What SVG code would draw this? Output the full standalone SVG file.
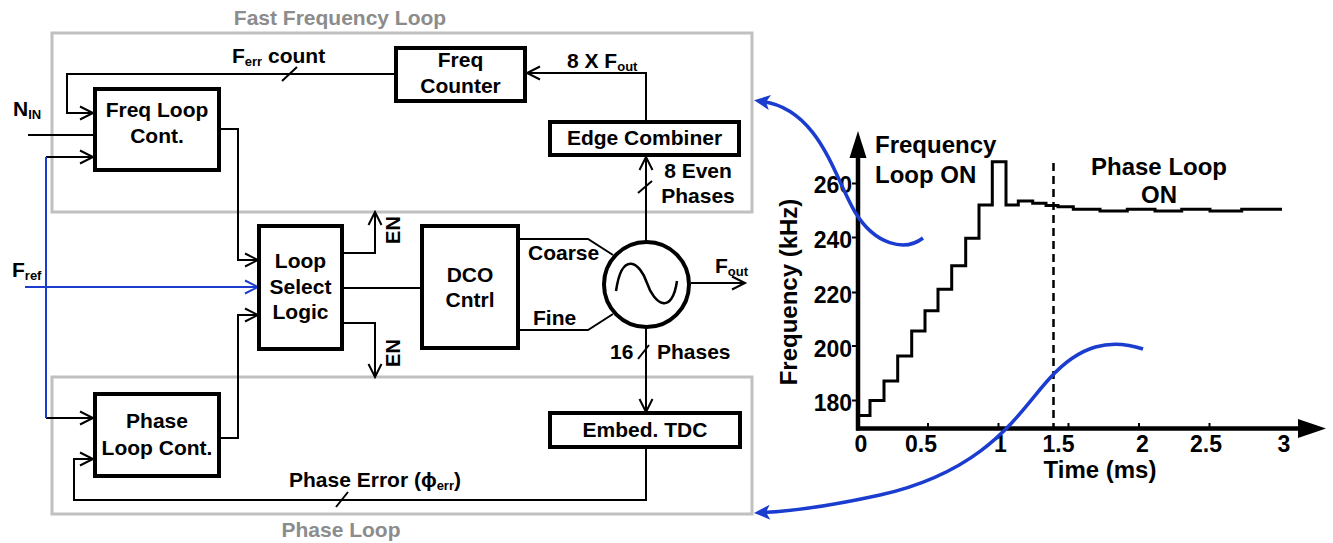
<svg xmlns="http://www.w3.org/2000/svg" width="1333" height="543" viewBox="0 0 1333 543">
<defs>
<style>
text{font-family:"Liberation Sans",Arial,sans-serif;font-weight:bold;fill:#000}
.t{font-size:21px}
.c{text-anchor:middle}
.sub{font-size:13px}
.gt{font-size:21px;fill:#8c8c8c}
.g{font-size:23px}
.blk{fill:#fff;stroke:#000;stroke-width:4}
.grp{fill:none;stroke:#c0c0c0;stroke-width:3}
.w{fill:none;stroke:#000;stroke-width:2}
.a{marker-end:url(#ch)}
.bl{fill:none;stroke:#1a3ccf;stroke-width:2}
.bc{fill:none;stroke:#1a3ccf;stroke-width:3.5;marker-end:url(#ba)}
.ax{fill:none;stroke:#000;stroke-width:4.5}
</style>
<marker id="ch" markerUnits="userSpaceOnUse" markerWidth="18" markerHeight="18" viewBox="-15 -9 18 18" refX="0" refY="0" orient="auto" overflow="visible">
<path d="M-13,-6.5 L0,0 L-13,6.5" fill="none" stroke="#000" stroke-width="2"/>
</marker>
<marker id="chb" markerUnits="userSpaceOnUse" markerWidth="18" markerHeight="18" viewBox="-15 -9 18 18" refX="0" refY="0" orient="auto" overflow="visible">
<path d="M-13,-6.5 L0,0 L-13,6.5" fill="none" stroke="#1a3ccf" stroke-width="2"/>
</marker>
<marker id="ba" markerUnits="userSpaceOnUse" markerWidth="20" markerHeight="20" viewBox="-10 -10 20 20" refX="0" refY="0" orient="auto" overflow="visible">
<path d="M9,0 L-7,-7.5 L-3,0 L-7,7.5 Z" fill="#1a3ccf"/>
</marker>
</defs>
<rect width="1333" height="543" fill="#fff"/>

<g id="fast-frequency-loop">
<rect class="grp" x="52" y="33" width="700" height="179"/>
<text class="gt c" x="340" y="25">Fast Frequency Loop</text>
</g>
<g id="phase-loop">
<rect class="grp" x="52" y="377" width="700" height="137"/>
<text class="gt c" x="341" y="537">Phase Loop</text>
</g>

<g id="connectors">
<polyline class="w a" points="394,74 67,74 67,113 93,113"/>
<line class="w" x1="282" y1="81" x2="297" y2="67"/>
<line class="w" x1="28" y1="135" x2="93" y2="135"/>
<line class="w a" x1="46" y1="157" x2="93" y2="157"/>
<line class="w a" x1="46" y1="418" x2="93" y2="418"/>
<line class="bl" x1="46" y1="157" x2="46" y2="418"/>
<line class="bl" x1="25" y1="287" x2="258" y2="287" marker-end="url(#chb)"/>
<polyline class="w a" points="221,129 238,129 238,260 258,260"/>
<polyline class="w a" points="221,438 238,438 238,315 258,315"/>
<polyline class="w a" points="342,253 375,253 375,212"/>
<polyline class="w a" points="342,323 375,323 375,377"/>
<line class="w" x1="342" y1="288" x2="422" y2="288"/>
<polyline class="w" points="518,239 588,239 613,255"/>
<polyline class="w" points="518,330 588,330 613,314"/>
<line class="w a" x1="646" y1="242" x2="646" y2="157"/>
<line class="w" x1="638" y1="193" x2="652" y2="181"/>
<polyline class="w a" points="646,122 646,73 527,73"/>
<line class="w a" x1="691" y1="283" x2="745" y2="283"/>
<line class="w a" x1="646" y1="327" x2="646" y2="412"/>
<line class="w" x1="638" y1="359" x2="649" y2="345"/>
<polyline class="w a" points="646,448 646,500 74,500 74,459 93,459"/>
<line class="w" x1="336" y1="507" x2="348" y2="492"/>
</g>

<g id="labels">
<text class="t" x="232" y="63">F<tspan class="sub" dy="3">err</tspan><tspan dy="-3"> count</tspan></text>
<text class="t" x="13" y="116">N<tspan class="sub" dy="3">IN</tspan></text>
<text class="t" x="12" y="277">F<tspan class="sub" dy="3">ref</tspan></text>
<text class="t" x="567" y="68">8 X F<tspan class="sub" dy="3">out</tspan></text>
<text class="t c" x="698" y="178">8 Even</text>
<text class="t c" x="698" y="203">Phases</text>
<text class="t" transform="translate(400,230) rotate(-90)" text-anchor="middle" style="font-size:20px">EN</text>
<text class="t" transform="translate(400,353) rotate(-90)" text-anchor="middle" style="font-size:20px">EN</text>
<text class="t" x="528" y="260">Coarse</text>
<text class="t" x="533" y="325">Fine</text>
<text class="t" x="715" y="273">F<tspan class="sub" dy="3">out</tspan></text>
<text class="t" x="610" y="359">16</text>
<text class="t" x="657" y="359">Phases</text>
<text class="t" x="289" y="487">Phase Error (ϕ<tspan class="sub" dy="3">err</tspan><tspan dy="-3">)</tspan></text>
</g>

<g id="freq-loop-cont">
<rect class="blk" x="95" y="89" width="124" height="81"/>
<text class="t c" x="157" y="117">Freq Loop</text>
<text class="t c" x="157" y="143">Cont.</text>
</g>
<g id="freq-counter">
<rect class="blk" x="396" y="48" width="129" height="53"/>
<text class="t c" x="460.5" y="67">Freq</text>
<text class="t c" x="460.5" y="93">Counter</text>
</g>
<g id="edge-combiner">
<rect class="blk" x="550" y="122" width="189" height="33"/>
<text class="t c" x="644.5" y="145">Edge Combiner</text>
</g>
<g id="loop-select-logic">
<rect class="blk" x="259" y="226" width="83" height="123"/>
<text class="t c" x="300.5" y="268">Loop</text>
<text class="t c" x="300.5" y="294">Select</text>
<text class="t c" x="300.5" y="319">Logic</text>
</g>
<g id="dco-cntrl">
<rect class="blk" x="422" y="226" width="96" height="122"/>
<text class="t c" x="470" y="282">DCO</text>
<text class="t c" x="470" y="307">Cntrl</text>
</g>
<g id="dco">
<circle cx="646.5" cy="284.5" r="42.5" fill="#fff" stroke="#000" stroke-width="4"/>
<path d="M616,291 C622,250 640,262 647,283 C654,304 672,316 677,281" fill="none" stroke="#000" stroke-width="2.5"/>
</g>
<g id="phase-loop-cont">
<rect class="blk" x="95" y="394" width="124" height="82"/>
<text class="t c" x="157" y="428">Phase</text>
<text class="t c" x="157" y="455">Loop Cont.</text>
</g>
<g id="embed-tdc">
<rect class="blk" x="550" y="413" width="190" height="34"/>
<text class="t c" x="645" y="437">Embed. TDC</text>
</g>

<g id="graph">
<line class="ax" x1="858" y1="430.5" x2="858" y2="155"/>
<path d="M858,131 L849.5,158 L866.5,158 Z" fill="#000"/>
<line class="ax" x1="856" y1="428.5" x2="1300" y2="428.5"/>
<path d="M1326,428.5 L1298,419 L1298,438 Z" fill="#000"/>
<g stroke="#000" stroke-width="2">
<line x1="852" y1="183.5" x2="858" y2="183.5"/>
<line x1="852" y1="237.5" x2="858" y2="237.5"/>
<line x1="852" y1="292.5" x2="858" y2="292.5"/>
<line x1="852" y1="346" x2="858" y2="346"/>
<line x1="852" y1="400.5" x2="858" y2="400.5"/>
<line x1="928" y1="423" x2="928" y2="428"/>
<line x1="998.5" y1="423" x2="998.5" y2="428"/>
<line x1="1068.5" y1="423" x2="1068.5" y2="428"/>
<line x1="1139" y1="423" x2="1139" y2="428"/>
<line x1="1209.5" y1="423" x2="1209.5" y2="428"/>
</g>
<g class="g" text-anchor="end">
<text class="g" x="852" y="193" text-anchor="end">260</text>
<text class="g" x="852" y="247.5" text-anchor="end">240</text>
<text class="g" x="852" y="303" text-anchor="end">220</text>
<text class="g" x="852" y="356.5" text-anchor="end">200</text>
<text class="g" x="852" y="411" text-anchor="end">180</text>
</g>
<text class="g c" x="861" y="452">0</text>
<text class="g c" x="921" y="452">0.5</text>
<text class="g c" x="1000.5" y="452">1</text>
<text class="g c" x="1058.5" y="452">1.5</text>
<text class="g c" x="1142.5" y="452">2</text>
<text class="g c" x="1206" y="452">2.5</text>
<text class="g c" x="1284" y="452">3</text>
<text class="g c" x="1100" y="478" style="font-size:24px">Time (ms)</text>
<text class="g" transform="translate(797,292) rotate(-90)" text-anchor="middle" style="font-size:24px">Frequency (kHz)</text>
<text class="g" x="875" y="153" style="font-size:24px">Frequency</text>
<text class="g" x="875" y="183" style="font-size:24px">Loop ON</text>
<text class="g" x="1091" y="175" style="font-size:24px">Phase Loop</text>
<text class="g c" x="1159" y="203" style="font-size:24px">ON</text>
<line x1="1053.5" y1="163" x2="1053.5" y2="428" stroke="#000" stroke-width="2.5" stroke-dasharray="8,5"/>
<path d="M858,415.5 H870 V400.5 H884 V381 H897.7 V356 H911.7 V331 H925 V310.7 H938 V289.3 H951.7 V265.7 H965.7 V238.3 H979 V205 H992.3 V161.7 H1006 V205 H1018.3 V201 H1032.7 V203.3 H1046 V205.5 H1058 V206.7 H1073.3 V209.3 H1100 V211 H1127.3 V209.3 H1155 V211 H1181.7 V209.3 H1210 V211 H1241.7 V209.3 H1282" fill="none" stroke="#000" stroke-width="3"/>
</g>

<g id="blue-arrows">
<path class="bc" d="M923,238 C905,252 875,245 855,212 S820,110 763,101.5"/>
<path class="bc" d="M1143,349 C1110,338 1080,345 1050,378 C1020,410 990,470 880,495 C830,506 795,511 763,512.5"/>
</g>
</svg>
